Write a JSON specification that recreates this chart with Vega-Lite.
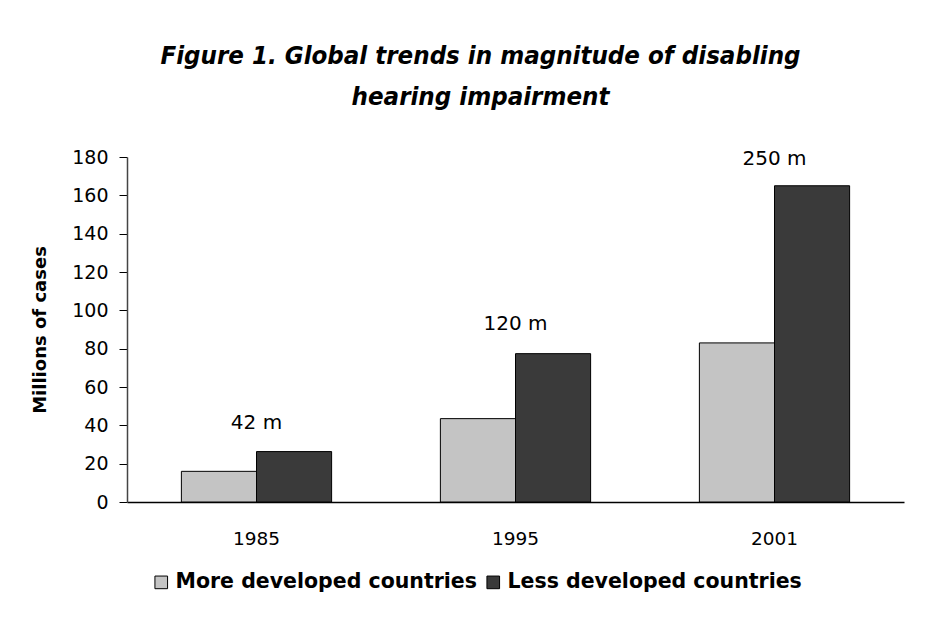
{
  "$schema": "https://vega.github.io/schema/vega-lite/v6.json",
  "width": 777,
  "height": 345,
  "padding": {"left": 31, "top": 44, "right": 10, "bottom": 10},
  "background": "white",
  "title": {
    "text": ["Figure 1.  Global trends in magnitude of disabling", "hearing impairment"],
    "font": "DejaVu Sans Condensed, DejaVu Sans, sans-serif",
    "fontSize": 25.6,
    "fontStyle": "italic",
    "fontWeight": "bold",
    "color": "black",
    "lineHeight": 41,
    "offset": 37,
    "dx": -35,
    "anchor": "middle"
  },
  "datasets": {
    "bars": [
      {"year": "1985", "series": "More developed countries", "cases": 16},
      {"year": "1985", "series": "Less developed countries", "cases": 26.3},
      {"year": "1995", "series": "More developed countries", "cases": 43.5},
      {"year": "1995", "series": "Less developed countries", "cases": 77.4},
      {"year": "2001", "series": "More developed countries", "cases": 83},
      {"year": "2001", "series": "Less developed countries", "cases": 165}
    ],
    "labels": [
      {"year": "1985", "label": "42 m", "cases": 41},
      {"year": "1995", "label": "120 m", "cases": 93},
      {"year": "2001", "label": "250 m", "cases": 179}
    ]
  },
  "encoding": {
    "x": {
      "field": "year", "type": "nominal", "title": null,
      "scale": {"paddingInner": 0.42, "paddingOuter": 0.21},
      "axis": {"labelAngle": 0, "ticks": false, "labelPadding": 27, "labelFontSize": 18.5, "labelFont": "DejaVu Sans, sans-serif", "labelColor": "black", "domainColor": "black", "domainWidth": 1.5}
    },
    "y": {
      "field": "cases", "type": "quantitative", "title": "Millions of cases",
      "scale": {"domain": [0, 180], "nice": false},
      "axis": {"values": [0, 20, 40, 60, 80, 100, 120, 140, 160, 180], "labelOverlap": false, "grid": false, "tickSize": 8, "tickColor": "black", "domainColor": "#444444", "domainWidth": 1.5, "labelFontSize": 19, "labelFont": "DejaVu Sans, sans-serif", "labelColor": "black", "labelPadding": 11, "titleFontSize": 18, "titleFont": "DejaVu Sans, sans-serif", "titleFontWeight": "bold", "titleColor": "black", "titlePadding": 22}
    }
  },
  "layer": [
    {
      "data": {"name": "bars"},
      "mark": {"type": "bar", "stroke": "black", "strokeWidth": 1},
      "encoding": {
        "xOffset": {"field": "series", "type": "nominal", "sort": ["More developed countries", "Less developed countries"], "scale": {"paddingInner": 0, "paddingOuter": 0}},
        "fill": {
          "field": "series", "type": "nominal", "sort": ["More developed countries", "Less developed countries"],
          "scale": {"domain": ["More developed countries", "Less developed countries"], "range": ["#c4c4c4", "#3a3a3a"]},
          "legend": {"orient": "bottom", "direction": "horizontal", "title": null, "symbolType": "square", "symbolSize": 160, "symbolStrokeColor": "black", "symbolStrokeWidth": 1, "labelFontSize": 20.5, "labelFontWeight": "bold", "labelFont": "DejaVu Sans, sans-serif", "labelColor": "black", "labelLimit": 0, "columnPadding": 6, "symbolOffset": 0, "labelOffset": 4, "offset": 0, "padding": 24}
        }
      }
    },
    {
      "data": {"name": "labels"},
      "mark": {"type": "text", "fontSize": 20, "font": "DejaVu Sans, sans-serif", "color": "black", "baseline": "middle"},
      "encoding": {
        "text": {"field": "label"}
      }
    }
  ],
  "config": {"view": {"stroke": null}, "legend": {"layout": {"bottom": {"anchor": "start"}}}}
}
